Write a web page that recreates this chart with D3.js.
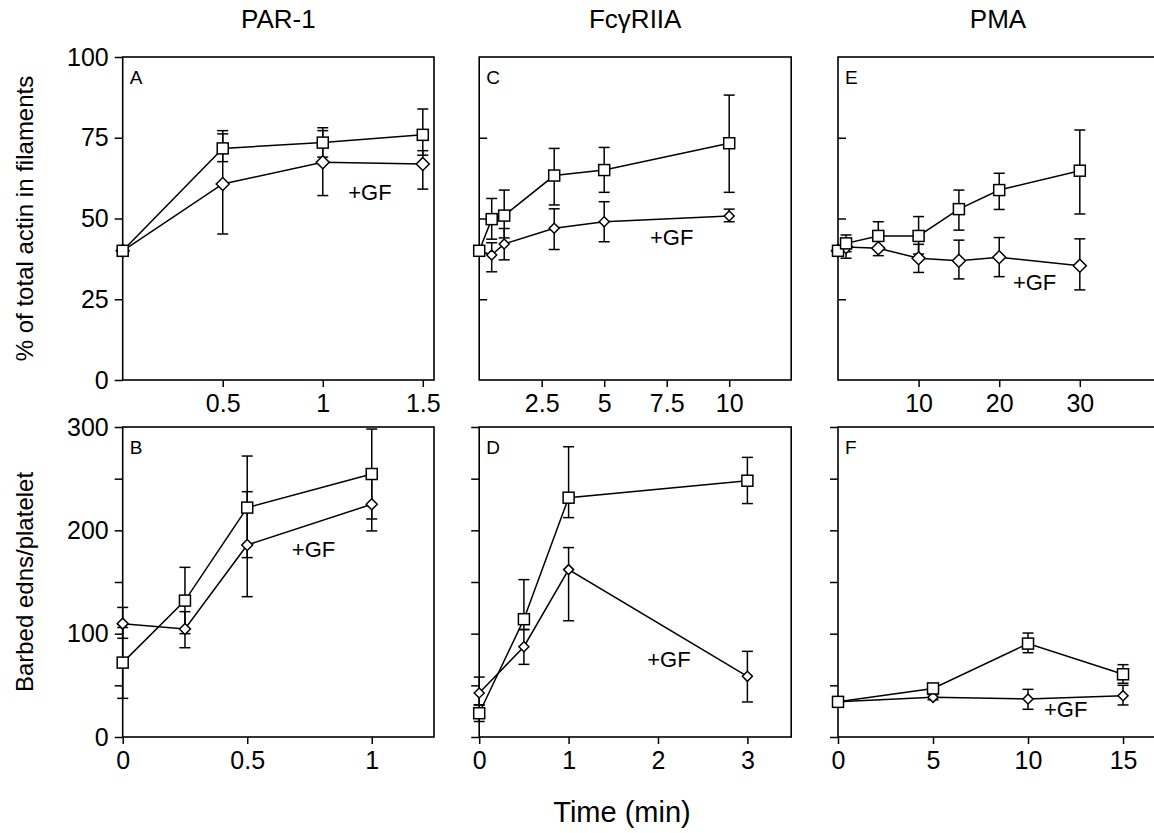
<!DOCTYPE html>
<html>
<head>
<meta charset="utf-8">
<script src="https://cdn.jsdelivr.net/npm/d3@7"></script>
<style>
  body { margin: 0; background: #fff; }
  svg text { font-family: "Liberation Sans", Arial, Helvetica, sans-serif; fill: #000; }
</style>
</head>
<body>
<svg id="chart" width="1154" height="833"></svg>
<script>
// ---- data ----
const titles = ['PAR-1', 'FcγRIIA', 'PMA'];

// A: PAR-1, % actin in filaments
const aTime = [0, 0.5, 1, 1.5];
const aCtrl = [40, 71.7, 73.5, 75.9];
const aCtrlLo = [39, 67.6, 69, 69.6];
const aCtrlHi = [41, 77.2, 78.1, 83.9];
const aGF = [40, 60.7, 67.4, 66.9];
const aGFLo = [39, 45.2, 57.1, 59.1];
const aGFHi = [41, 76.2, 77.2, 71];

// C: FcgRIIA, % actin in filaments
const cTime = [0, 0.5, 1, 3, 5, 10];
const cCtrl = [40, 49.8, 50.9, 63.3, 65, 73.3];
const cCtrlLo = [39, 43.6, 44, 54.2, 58.1, 58.1];
const cCtrlHi = [41, 56.2, 58.8, 71.7, 72, 88.2];
const cGF = [40, 38.7, 42.1, 47, 49, 50.8];
const cGFLo = [39, 33.5, 37.2, 40.4, 42.8, 49];
const cGFHi = [41, 42.5, 46.9, 53, 55.2, 52.9];

// E: PMA, % actin in filaments
const eTime = [0, 1, 5, 10, 15, 20, 30];
const eCtrl = [40, 42.3, 44.6, 44.6, 52.9, 58.8, 64.8];
const eCtrlLo = [39, 39.7, 40.5, 39, 46.4, 52.8, 51.4];
const eCtrlHi = [41, 44.9, 49, 50.6, 58.8, 64, 77.4];
const eGF = [40, 41.2, 40.8, 37.7, 36.9, 38, 35.4];
const eGFLo = [39, 37.7, 38.5, 33.3, 31.3, 32, 27.9];
const eGFHi = [41, 43, 43, 42, 43.3, 44.1, 43.7];

// B: PAR-1, barbed ends/platelet
const bTime = [0, 0.25, 0.5, 1];
const bCtrl = [72, 132, 222, 254.5];
const bCtrlLo = [37.4, 100, 173.6, 211];
const bCtrlHi = [106, 164.2, 271.9, 298];
const bGF = [109.7, 104.5, 185.8, 225.2];
const bGFLo = [95.5, 86.4, 135.8, 199.4];
const bGFHi = [125.4, 121.3, 237.4, 251];

// D: FcgRIIA, barbed ends/platelet
const dTime = [0, 0.5, 1, 3];
const dCtrl = [23, 114, 231.6, 248];
const dCtrlLo = [15, 104, 212.3, 225.9];
const dCtrlHi = [31, 152.3, 280.9, 270.6];
const dGF = [42.6, 87.4, 162, 58.7];
const dGFLo = [31, 70.3, 112.5, 33.9];
const dGFHi = [58, 104, 183.3, 82.9];

// F: PMA, barbed ends/platelet
const fTime = [0, 5, 10, 15];
const fCtrl = [34, 47, 90.4, 60.7];
const fCtrlLo = [31, 44, 81.6, 52];
const fCtrlHi = [37, 50, 100.6, 70];
const fGF = [34, 38.4, 36.8, 40];
const fGFLo = [31, 36, 26.8, 31];
const fGFHi = [37, 41, 46.1, 50];

// tick values
const actinTicks = [0, 25, 50, 75, 100];
const barbedTicks = [0, 50, 100, 150, 200, 250, 300];
const barbedLabels = [0, 100, 200, 300];

// ---- layout ----
const colLeft = [122.7, 479.2, 838];
const colWidth = [311.3, 312, 320];
const rowTop = [57, 427];
const rowBottom = [380, 737];
const FONT = 25;

const svg = d3.select('#chart');

const panels = [
  { letter: 'A', col: 0, row: 0, xMax: 1.556, yMax: 100, time: aTime,
    ctrl: [aCtrl, aCtrlLo, aCtrlHi], gf: [aGF, aGFLo, aGFHi],
    xTicks: [0.5, 1, 1.5], yTicks: actinTicks, yLabels: actinTicks, yIn: false, gfAt: [1.127, 55.7], dia: 6.5 },
  { letter: 'C', col: 1, row: 0, xMax: 12.48, yMax: 100, time: cTime,
    ctrl: [cCtrl, cCtrlLo, cCtrlHi], gf: [cGF, cGFLo, cGFHi],
    xTicks: [2.5, 5, 7.5, 10], yTicks: [25, 50, 75], yLabels: [], yIn: true, gfAt: [6.83, 41.8], dia: 5 },
  { letter: 'E', col: 2, row: 0, xMax: 39.7, yMax: 100, time: eTime,
    ctrl: [eCtrl, eCtrlLo, eCtrlHi], gf: [eGF, eGFLo, eGFHi],
    xTicks: [10, 20, 30], yTicks: [25, 50, 75], yLabels: [], yIn: true, gfAt: [21.7, 27.9], dia: 6.5 },
  { letter: 'B', col: 0, row: 1, xMax: 1.25, yMax: 300, time: bTime,
    ctrl: [bCtrl, bCtrlLo, bCtrlHi], gf: [bGF, bGFLo, bGFHi],
    xTicks: [0, 0.5, 1], yTicks: barbedTicks, yLabels: barbedLabels, yIn: false, gfAt: [0.679, 174.5], dia: 5.5 },
  { letter: 'D', col: 1, row: 1, xMax: 3.49, yMax: 300, time: dTime,
    ctrl: [dCtrl, dCtrlLo, dCtrlHi], gf: [dGF, dGFLo, dGFHi],
    xTicks: [0, 1, 2, 3], yTicks: barbedTicks, yLabels: [], yIn: false, gfAt: [1.88, 68], dia: 5 },
  { letter: 'F', col: 2, row: 1, xMax: 16.84, yMax: 300, time: fTime,
    ctrl: [fCtrl, fCtrlLo, fCtrlHi], gf: [fGF, fGFLo, fGFHi],
    xTicks: [0, 5, 10, 15], yTicks: barbedTicks, yLabels: [], yIn: false, gfAt: [10.84, 19.7], dia: 5 }
];

panels.forEach(p => {
  const left = colLeft[p.col], w = colWidth[p.col];
  const top = rowTop[p.row], bottom = rowBottom[p.row];
  const h = bottom - top;

  const x = d3.scaleLinear().domain([0, p.xMax]).range([0, w]);
  const y = d3.scaleLinear().domain([0, p.yMax]).range([h, 0]);

  const g = svg.append('g').attr('transform', `translate(${left},${top})`);

  // y ticks
  const yAxis = (p.yIn ? d3.axisRight(y) : d3.axisLeft(y))
    .tickValues(p.yTicks)
    .tickSize(8)
    .tickPadding(6)
    .tickFormat(d => p.yLabels.includes(d) ? d : '');
  const yAxisG = g.append('g').call(yAxis);

  // x ticks
  const xAxis = d3.axisBottom(x)
    .tickValues(p.xTicks)
    .tickSize(7)
    .tickPadding(7)
    .tickFormat(d => d);
  const xAxisG = g.append('g').attr('transform', `translate(0,${h})`).call(xAxis);

  [yAxisG, xAxisG].forEach(a => {
    a.select('.domain').remove();
    a.selectAll('.tick line').attr('stroke', '#000').attr('stroke-width', 1.5);
    a.selectAll('.tick text').style('font-size', FONT + 'px');
  });

  // frame
  g.append('rect')
    .attr('x', 0).attr('y', 0).attr('width', w).attr('height', h)
    .attr('fill', 'none').attr('stroke', '#000').attr('stroke-width', 1.6);

  // panel letter
  g.append('text').attr('x', 7).attr('y', 27)
    .style('font-size', '19px').text(p.letter);

  const line = d3.line().x(d => x(d[0])).y(d => y(d[1]));
  const series = [
    { v: p.ctrl, shape: 'square' },
    { v: p.gf, shape: 'diamond' }
  ];

  series.forEach(s => {
    const pts = p.time.map((t, i) => [t, s.v[0][i], s.v[1][i], s.v[2][i]]);
    g.append('path').datum(pts)
      .attr('d', line)
      .attr('fill', 'none').attr('stroke', '#000').attr('stroke-width', 1.5);

    // error bars
    const eb = g.append('g').selectAll('g').data(pts).enter().append('g')
      .attr('stroke', '#000').attr('stroke-width', 1.5);
    eb.append('line')
      .attr('x1', d => x(d[0])).attr('x2', d => x(d[0]))
      .attr('y1', d => y(d[2])).attr('y2', d => y(d[3]));
    eb.append('line')
      .attr('x1', d => x(d[0]) - 5.5).attr('x2', d => x(d[0]) + 5.5)
      .attr('y1', d => y(d[2])).attr('y2', d => y(d[2]));
    eb.append('line')
      .attr('x1', d => x(d[0]) - 5.5).attr('x2', d => x(d[0]) + 5.5)
      .attr('y1', d => y(d[3])).attr('y2', d => y(d[3]));
    s.pts = pts;
  });

  // markers last so they sit on top
  series.slice().reverse().forEach(s => {
    if (s.shape === 'square') {
      g.append('g').selectAll('rect').data(s.pts).enter().append('rect')
        .attr('x', d => x(d[0]) - 5.5).attr('y', d => y(d[1]) - 5.5)
        .attr('width', 11).attr('height', 11)
        .attr('fill', '#fff').attr('stroke', '#000').attr('stroke-width', 1.5);
    } else {
      const r = p.dia;
      g.append('g').selectAll('path').data(s.pts).enter().append('path')
        .attr('d', d => {
          const cx = x(d[0]), cy = y(d[1]);
          return `M${cx},${cy - r}L${cx + r},${cy}L${cx},${cy + r}L${cx - r},${cy}Z`;
        })
        .attr('fill', '#fff').attr('stroke', '#000').attr('stroke-width', 1.5);
    }
  });

  // +GF label
  g.append('text')
    .attr('x', x(p.gfAt[0])).attr('y', y(p.gfAt[1]))
    .style('font-size', '22px').text('+GF');
});

// column titles
titles.forEach((t, i) => {
  svg.append('text')
    .attr('x', colLeft[i] + colWidth[i] / 2).attr('y', 28)
    .attr('text-anchor', 'middle')
    .style('font-size', '26px').text(t);
});

// axis titles
svg.append('text')
  .attr('transform', `translate(33,${(rowTop[0] + rowBottom[0]) / 2}) rotate(-90)`)
  .attr('text-anchor', 'middle')
  .style('font-size', '24px').text('% of total actin in filaments');
svg.append('text')
  .attr('transform', `translate(33,${(rowTop[1] + rowBottom[1]) / 2}) rotate(-90)`)
  .attr('text-anchor', 'middle')
  .style('font-size', '24px').text('Barbed edns/platelet');
svg.append('text')
  .attr('x', 622).attr('y', 822)
  .attr('text-anchor', 'middle')
  .style('font-size', '29px').text('Time (min)');
</script>
</body>
</html>
